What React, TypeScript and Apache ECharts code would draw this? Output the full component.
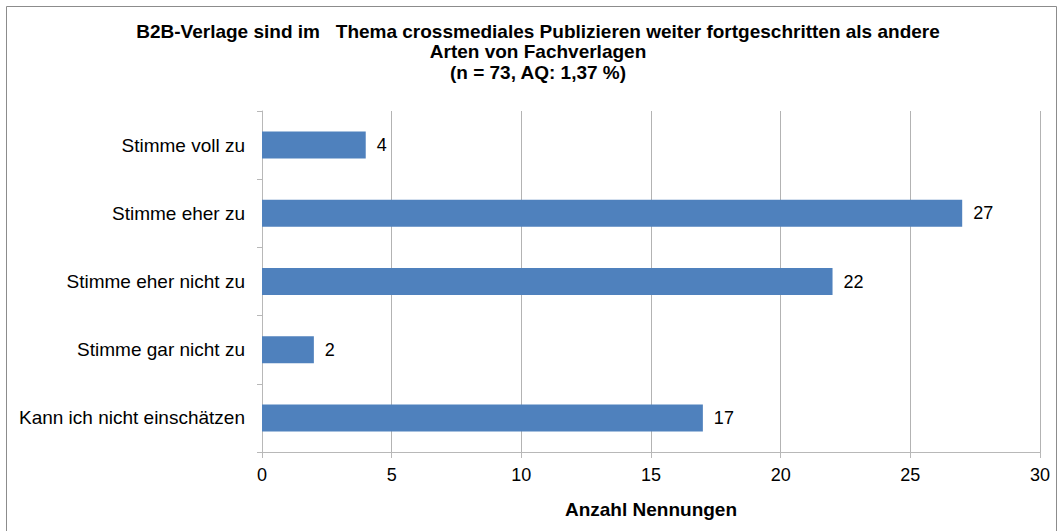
import React, { useEffect, useRef } from "react";
import * as echarts from "echarts";

const categories = [
  "Stimme voll zu",
  "Stimme eher zu",
  "Stimme eher nicht zu",
  "Stimme gar nicht zu",
  "Kann ich nicht einschätzen",
];
const values = [4, 27, 22, 2, 17];
const titleLines = [
  "B2B-Verlage sind im   Thema crossmediales Publizieren weiter fortgeschritten als andere",
  "Arten von Fachverlagen",
  "(n = 73, AQ: 1,37 %)",
];
const axisName = "Anzahl Nennungen";

const FONT = "'Liberation Sans', Arial, sans-serif";

export default function App() {
  const ref = useRef<HTMLDivElement>(null);
  useEffect(() => {
    if (!ref.current) return;
    const chart = echarts.init(ref.current, undefined, { renderer: "svg" });
    chart.setOption({
      animation: false,
      backgroundColor: "#ffffff",
      textStyle: { fontFamily: FONT },
      graphic: [
        {
          type: "rect",
          shape: { x: 6.5, y: 6.5, width: 1050, height: 540 },
          style: { fill: "none", stroke: "#8c8c8c", lineWidth: 1 },
          silent: true,
        },
      ],
      title: {
        text: titleLines.join("\n"),
        left: 538,
        top: 21,
        textAlign: "center",
        padding: 0,
        textStyle: {
          fontFamily: FONT,
          fontSize: 19,
          fontWeight: "bold",
          color: "#000",
          lineHeight: 20.5,
        },
      },
      grid: { left: 262, right: 22, top: 111, bottom: 79, containLabel: false },
      xAxis: {
        type: "value",
        min: 0,
        max: 30,
        interval: 5,
        name: axisName,
        nameLocation: "middle",
        nameGap: 48,
        nameTextStyle: { fontFamily: FONT, fontSize: 19, fontWeight: "bold", color: "#000" },
        axisLine: { show: true, lineStyle: { color: "#b8b8b8", width: 1 } },
        axisTick: { show: true, length: 6, lineStyle: { color: "#b8b8b8" } },
        axisLabel: { fontFamily: FONT, fontSize: 18, color: "#000", margin: 14 },
        splitLine: { show: true, lineStyle: { color: "#b3b3b3", width: 1 } },
      },
      yAxis: {
        type: "category",
        data: categories,
        inverse: true,
        axisLine: { show: true, lineStyle: { color: "#b8b8b8", width: 1 } },
        axisTick: { show: true, length: 5, lineStyle: { color: "#b8b8b8" } },
        axisLabel: { fontFamily: FONT, fontSize: 19, color: "#000", margin: 17 },
        splitLine: { show: false },
      },
      series: [
        {
          type: "bar",
          data: values,
          barWidth: 27,
          itemStyle: { color: "#4f81bd" },
          label: {
            show: true,
            position: "right",
            distance: 11,
            fontFamily: FONT,
            fontSize: 18,
            color: "#000",
          },
        },
      ],
    });
    return () => chart.dispose();
  }, []);
  return (
    <div
      ref={ref}
      style={{ position: "absolute", left: 0, top: 0, width: 1062, height: 531 }}
    />
  );
}
